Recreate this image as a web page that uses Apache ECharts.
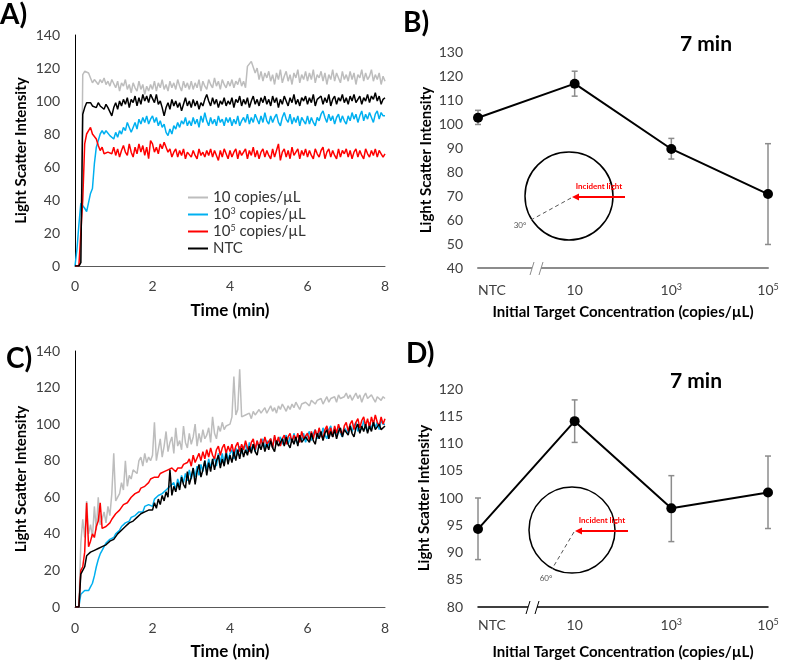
<!DOCTYPE html>
<html>
<head>
<meta charset="utf-8">
<script src="https://cdn.jsdelivr.net/npm/echarts@6/dist/echarts.min.js"></script>
<style>
html, body { margin: 0; padding: 0; background: #fff; }
#main { width: 789px; height: 661px; }
</style>
</head>
<body>
<div id="main"></div>
<script>
var FONT = 'Lato, "Open Sans", sans-serif';

// time (min), shared by the kinetic traces of panels A and C
var times = [
  0,0.05,0.1,0.15,0.2,0.25,0.3,0.35,0.4,0.45,0.5,0.55,0.6,0.65,0.7,0.75,0.8,0.85,0.9,0.95,
  1,1.05,1.1,1.15,1.2,1.25,1.3,1.35,1.4,1.45,1.5,1.55,1.6,1.65,1.7,1.75,1.8,1.85,1.9,1.95,
  2,2.05,2.1,2.15,2.2,2.25,2.3,2.35,2.4,2.45,2.5,2.55,2.6,2.65,2.7,2.75,2.8,2.85,2.9,2.95,
  3,3.05,3.1,3.15,3.2,3.25,3.3,3.35,3.4,3.45,3.5,3.55,3.6,3.65,3.7,3.75,3.8,3.85,3.9,3.95,
  4,4.05,4.1,4.15,4.2,4.25,4.3,4.35,4.4,4.45,4.5,4.55,4.6,4.65,4.7,4.75,4.8,4.85,4.9,4.95,
  5,5.05,5.1,5.15,5.2,5.25,5.3,5.35,5.4,5.45,5.5,5.55,5.6,5.65,5.7,5.75,5.8,5.85,5.9,5.95,
  6,6.05,6.1,6.15,6.2,6.25,6.3,6.35,6.4,6.45,6.5,6.55,6.6,6.65,6.7,6.75,6.8,6.85,6.9,6.95,
  7,7.05,7.1,7.15,7.2,7.25,7.3,7.35,7.4,7.45,7.5,7.55,7.6,7.65,7.7,7.75,7.8,7.85,7.9,7.95,
  8
];

// panel A (30 deg)
var aGray = [
  0,0,0,2,116,118,118,117,114,111,113,112,110,113,111,114,110,112,109,113,
  113,108,112,106,111,109,113,107,110,105,111,108,106,112,107,110,104,109,106,110,
  107,112,106,111,108,113,107,110,106,112,108,111,107,113,109,106,112,108,111,107,
  112,107,111,108,113,106,112,109,107,113,110,108,114,109,112,107,113,110,108,112,
  109,113,108,112,110,114,109,112,108,121,122,124,123,117,120,113,118,112,117,114,
  118,112,116,110,117,113,119,111,115,118,112,116,110,117,114,119,111,116,113,118,
  112,117,113,119,111,116,114,118,112,117,110,116,113,119,112,117,114,111,118,113,
  116,112,118,113,117,110,116,114,119,112,117,113,115,119,112,116,113,117,110,115,
  112
];
var aBlue = [
  0,10,25,38,37,35,33,32,44,47,62,72,76,80,82,80,82,81,79,80,
  77,81,78,82,80,84,82,87,84,81,84,87,83,89,86,90,87,91,86,89,
  91,87,90,85,88,84,86,81,79,83,80,85,83,87,84,88,86,90,85,88,
  85,90,86,89,84,91,87,93,88,85,90,86,89,85,91,87,89,85,90,87,
  90,85,89,86,91,85,88,90,87,92,86,90,87,92,89,86,91,87,93,88,
  86,91,87,90,92,87,85,90,93,89,87,92,86,90,87,91,85,90,88,86,
  91,86,90,87,85,90,88,92,94,90,87,92,88,91,86,90,92,87,91,88,
  86,91,88,93,89,92,87,91,94,88,92,89,93,90,87,92,94,89,93,91,
  91
];
var aRed = [
  0,0,0,0,40,74,80,82,84,80,81,77,73,70,72,68,67,69,70,68,
  72,67,71,66,70,73,69,67,74,69,66,72,68,74,69,73,67,72,65,76,
  74,69,72,68,74,71,75,72,69,71,66,69,71,66,70,67,71,65,69,70,
  66,70,67,65,71,67,69,66,70,67,71,66,70,67,64,70,66,71,68,65,
  70,66,69,71,65,70,67,66,71,65,70,67,72,66,70,65,69,71,66,70,
  67,65,71,66,70,74,64,69,71,66,70,65,72,67,66,71,65,70,67,71,
  66,70,67,65,71,68,66,70,72,65,69,71,66,70,67,65,71,66,70,68,
  71,66,70,65,69,71,66,70,67,65,71,68,66,70,67,71,66,70,68,66,
  68
];
var aBlack = [
  0,0,0,2,92,96,99,98,99,97,98,96,99,97,98,95,98,96,97,91,
  96,99,95,100,97,101,98,102,96,101,99,103,97,102,98,104,100,103,99,104,
  103,99,104,98,100,96,91,96,99,95,101,97,100,96,99,94,98,102,97,100,
  96,101,97,100,95,99,97,101,104,100,97,102,98,101,96,100,98,102,97,100,
  98,102,96,101,99,103,97,101,98,102,96,100,103,98,101,97,102,99,103,98,
  101,97,103,99,102,96,101,98,103,100,97,102,99,104,98,101,97,102,100,103,
  98,102,99,104,97,101,100,103,98,102,99,104,97,101,103,98,102,100,104,99,
  102,98,103,100,104,99,101,103,98,102,100,104,99,103,101,105,100,103,98,101,
  102
];

// panel C (60 deg)
var cGray = [
  0,0,0,35,48,38,58,40,45,38,55,42,60,45,48,52,46,55,50,62,
  84,58,57,62,68,64,80,66,72,70,75,76,73,80,82,77,84,79,82,80,
  83,101,80,86,92,82,88,96,85,90,93,84,98,88,91,86,99,90,87,95,
  89,93,100,88,95,90,97,92,94,98,90,104,95,92,99,96,101,97,99,100,
  100,104,126,105,108,130,104,103,105,104,106,103,107,105,104,108,106,107,109,106,
  108,110,107,109,106,110,108,111,109,107,110,108,111,109,112,110,108,111,110,112,
  111,110,113,112,111,113,112,114,111,113,115,112,114,113,115,112,116,114,113,115,
  117,114,116,113,115,117,114,116,112,115,117,114,113,116,114,112,115,116,113,115,
  114
];
var cBlue = [
  0,0,0,7,8,9,10,9,11,13,17,22,26,29,31,33,35,36,37,38,
  38,40,41,42,44,43,46,45,47,49,48,50,51,52,53,52,55,54,56,57,
  55,59,58,61,60,62,62,64,63,66,65,68,64,70,66,72,68,73,69,75,
  70,76,71,77,72,78,74,80,75,81,76,80,82,77,84,79,84,78,86,80,
  84,86,81,87,83,88,84,87,89,84,90,86,89,85,91,87,90,92,86,91,
  88,92,87,93,89,88,93,89,92,94,89,93,90,95,91,89,94,91,95,90,
  94,96,91,95,97,92,96,93,98,94,92,97,99,93,98,94,99,95,93,98,
  99,95,100,96,99,101,96,100,97,102,98,96,101,97,102,98,101,97,102,100,
  100
];
var cRed = [
  0,0,0,20,22,30,57,33,36,40,38,44,47,57,43,42,44,43,46,48,
  49,51,50,53,54,56,55,57,58,60,59,62,61,63,65,64,66,67,68,70,
  69,71,72,71,73,72,74,73,75,74,76,75,74,76,77,76,78,77,79,81,
  77,83,79,78,84,80,85,81,86,82,87,83,81,86,88,83,87,89,84,88,
  85,89,84,88,90,85,89,86,91,87,85,90,92,86,91,87,92,88,93,89,
  88,92,87,94,89,93,88,92,94,89,93,95,90,94,91,95,90,96,92,91,
  95,91,96,92,97,93,98,94,92,97,99,94,98,93,99,95,100,96,94,99,
  101,96,100,102,97,101,103,98,102,104,99,103,98,104,100,105,101,99,104,100,
  103
];
var cBlack = [
  0,0,0,18,20,22,28,29,30,29,31,30,32,31,33,32,34,33,36,35,
  37,38,40,39,42,41,44,43,46,45,47,46,49,48,51,50,52,51,53,54,
  53,57,54,59,56,61,58,63,60,75,61,66,63,68,64,71,67,65,74,67,
  71,76,67,74,78,71,75,80,72,79,74,81,75,80,83,76,81,77,84,78,
  83,79,85,80,86,81,87,82,86,83,88,84,89,85,83,89,86,90,85,89,
  86,91,87,85,91,88,87,92,88,93,89,87,92,89,93,88,94,90,89,93,
  94,90,95,91,89,95,92,96,91,95,97,92,96,93,97,92,96,98,93,97,
  98,94,99,95,93,98,100,95,99,96,100,95,99,96,101,97,96,100,97,96,
  99
];

// panels B and D: intensity at 7 min
var concCats = ['NTC', '10', '10^3', '10^5'];
var bMean = [102.6, 116.8, 89.6, 70.8];
var bLow  = [99.8, 111.6, 85.4, 49.8];
var bHigh = [105.7, 122.0, 94.0, 91.8];
var dMean = [94.3, 114.1, 98.1, 101.0];
var dLow  = [88.7, 110.2, 92.0, 94.4];
var dHigh = [100.0, 118.0, 104.1, 107.7];

var seriesNames = ['10 copies/µL', '10^3 copies/µL', '10^5 copies/µL', 'NTC'];
var seriesColors = ['#bdbdbd', '#00b0f0', '#ff0000', '#000000'];

var chart = echarts.init(document.getElementById('main'));

function pairs(vals) {
    return times.map(function (t, i) { return [t, vals[i]]; });
}

function supText(s) {
    return s.replace(/\^(\d)/, '{s|$1}');
}

var supRich = {
    s: { fontSize: 9, verticalAlign: 'top', fontFamily: FONT, color: '#404040', lineHeight: 10 }
};

function errorItem(color) {
    return function (params, api) {
        var lo = api.coord([api.value(0), api.value(1)]);
        var hi = api.coord([api.value(0), api.value(2)]);
        var w = 3;
        var st = { stroke: color, lineWidth: 1.5 };
        return {
            type: 'group',
            children: [
                { type: 'line', shape: { x1: lo[0], y1: lo[1], x2: hi[0], y2: hi[1] }, style: st },
                { type: 'line', shape: { x1: lo[0] - w, y1: lo[1], x2: lo[0] + w, y2: lo[1] }, style: st },
                { type: 'line', shape: { x1: hi[0] - w, y1: hi[1], x2: hi[0] + w, y2: hi[1] }, style: st }
            ]
        };
    };
}

function timeAxis(grid, margin, gap) {
    return {
        gridIndex: grid, type: 'value', min: 0, max: 8, interval: 2,
        axisLine: { lineStyle: { color: '#595959', width: 1 } },
        axisTick: { show: false },
        splitLine: { show: false },
        axisLabel: { margin: margin, fontSize: 14, color: '#404040', fontFamily: FONT },
        name: 'Time (min)', nameLocation: 'middle', nameGap: gap,
        nameTextStyle: { fontSize: 17, fontWeight: 'bold', color: '#000', fontFamily: FONT }
    };
}

function concAxis(grid, lineColor, lineWidth, margin, gap) {
    return {
        gridIndex: grid, type: 'category', data: concCats, boundaryGap: false,
        axisLine: { lineStyle: { color: lineColor, width: lineWidth } },
        axisTick: { show: false },
        splitLine: { show: false },
        axisLabel: {
            margin: margin, fontSize: 14, color: '#404040', fontFamily: FONT,
            formatter: function (v) { return v === 'NTC' ? '{n|NTC}' : supText(v); },
            rich: {
                s: supRich.s,
                n: { fontSize: 14, color: '#404040', fontFamily: FONT, padding: [0, 0, 0, 28] }
            }
        },
        name: 'Initial Target Concentration (copies/µL)', nameLocation: 'middle', nameGap: gap,
        nameTextStyle: { fontSize: 15, fontWeight: 'bold', color: '#000', fontFamily: FONT }
    };
}

function intensityAxis(grid, min, max, interval, showLine, gap) {
    return {
        gridIndex: grid, type: 'value', min: min, max: max, interval: interval,
        axisLine: { show: showLine, lineStyle: { color: '#000', width: 1 } },
        axisTick: { show: false },
        splitLine: { show: false },
        axisLabel: { margin: 15, fontSize: 14, color: '#404040', fontFamily: FONT },
        name: 'Light Scatter Intensity', nameLocation: 'middle', nameGap: gap,
        nameTextStyle: { fontSize: 15, fontWeight: 'bold', color: '#000', fontFamily: FONT }
    };
}

var traceSets = [[aGray, aBlue, aRed, aBlack], [cGray, cBlue, cRed, cBlack]];
var series = [];
traceSets.forEach(function (set, gi) {
    set.forEach(function (vals, k) {
        series.push({
            name: seriesNames[k], type: 'line', xAxisIndex: gi, yAxisIndex: gi,
            data: pairs(vals), showSymbol: false, symbol: 'none',
            lineStyle: { width: 1.5, color: seriesColors[k] },
            itemStyle: { color: seriesColors[k] },
            animation: false
        });
    });
});

[[bMean, bLow, bHigh, 2], [dMean, dLow, dHigh, 3]].forEach(function (p) {
    series.push({
        type: 'custom', xAxisIndex: p[3], yAxisIndex: p[3], z: 1,
        data: concCats.map(function (c, i) { return [i, p[1][i], p[2][i]]; }),
        encode: { x: 0, y: [1, 2] },
        renderItem: errorItem('#8c8c8c'), animation: false, silent: true
    });
    series.push({
        type: 'line', xAxisIndex: p[3], yAxisIndex: p[3], z: 3, data: p[0],
        symbol: 'circle', symbolSize: 10,
        lineStyle: { color: '#000', width: 2 }, itemStyle: { color: '#000' },
        animation: false
    });
});

function txt(text, x, y, size, color, bold, align) {
    return {
        type: 'text', x: x, y: y, silent: true,
        style: {
            text: text, fontSize: size, fontWeight: bold ? 'bold' : 'normal',
            fontFamily: FONT, fill: color, align: align || 'left', verticalAlign: 'middle'
        }
    };
}

// angle-of-detection sketch + axis breaks for B and D
function sketch(cx, cy, r, angleLabel, ex, ey, lx, ly) {
    return [
        { type: 'circle', shape: { cx: cx, cy: cy, r: r }, style: { fill: 'none', stroke: '#000', lineWidth: 1.5 }, silent: true },
        { type: 'line', shape: { x1: cx + 56, y1: cy + 1, x2: cx + 8, y2: cy + 1 }, style: { stroke: '#ff0000', lineWidth: 2 }, silent: true },
        { type: 'polygon', shape: { points: [[cx + 3, cy + 1], [cx + 10, cy - 2.5], [cx + 10, cy + 4.5]] }, style: { fill: '#ff0000' }, silent: true },
        { type: 'line', shape: { x1: cx + 2, y1: cy + 2, x2: ex, y2: ey }, style: { stroke: '#555', lineWidth: 1, lineDash: [4, 3] }, silent: true },
        txt('Incident light', cx + 30, cy - 10, 8, '#ff0000', true, 'center'),
        txt(angleLabel, lx, ly, 8, '#555', false, 'center')
    ];
}

function axisBreak(x, y, color) {
    return [
        { type: 'rect', shape: { x: x - 4, y: y - 3, width: 9, height: 6 }, style: { fill: '#fff' }, silent: true, z: 100 },
        { type: 'line', shape: { x1: x - 6, y1: y + 7, x2: x - 2, y2: y - 6 }, style: { stroke: color, lineWidth: 1 }, silent: true, z: 101 },
        { type: 'line', shape: { x1: x + 3, y1: y + 7, x2: x + 7, y2: y - 6 }, style: { stroke: color, lineWidth: 1 }, silent: true, z: 101 }
    ];
}

var graphics = [
    txt('A)', 0, 15, 28, '#000', true),
    txt('B)', 403, 23, 28, '#000', true),
    txt('C)', 6, 359, 28, '#000', true),
    txt('D)', 406, 354, 28, '#000', true),
    txt('7 min', 706, 44, 21, '#000', true, 'center'),
    txt('7 min', 696, 381, 21, '#000', true, 'center')
].concat(
    sketch(569, 196, 44, '30°', 531, 220, 520, 225),
    sketch(572, 530, 43, '60°', 552, 569, 546, 578),
    axisBreak(536, 268, '#8c8c8c'),
    axisBreak(532, 607, '#000')
);

var option = {
    animation: false,
    textStyle: { fontFamily: FONT },
    grid: [
        { left: 75, top: 35, width: 310, height: 231, outerBoundsMode: 'none' },
        { left: 75, top: 351, width: 310, height: 256, outerBoundsMode: 'none' },
        { left: 478, top: 52, width: 290, height: 216, outerBoundsMode: 'none' },
        { left: 478, top: 389, width: 290, height: 218, outerBoundsMode: 'none' }
    ],
    xAxis: [
        timeAxis(0, 13, 36),
        timeAxis(1, 14, 36),
        concAxis(2, '#8c8c8c', 2, 15, 37),
        concAxis(3, '#000', 1.5, 11, 38)
    ],
    yAxis: [
        intensityAxis(0, 0, 140, 20, true, 46),
        intensityAxis(1, 0, 140, 20, true, 46),
        intensityAxis(2, 40, 130, 10, false, 44),
        intensityAxis(3, 80, 120, 5, false, 46)
    ],
    legend: {
        data: seriesNames, orient: 'vertical', left: 183, top: 185,
        icon: 'rect', itemWidth: 20, itemHeight: 2, itemGap: 2,
        formatter: supText,
        textStyle: { fontSize: 15, color: '#333', fontFamily: FONT, rich: supRich }
    },
    series: series,
    graphic: graphics
};

chart.setOption(option);
</script>
</body>
</html>
